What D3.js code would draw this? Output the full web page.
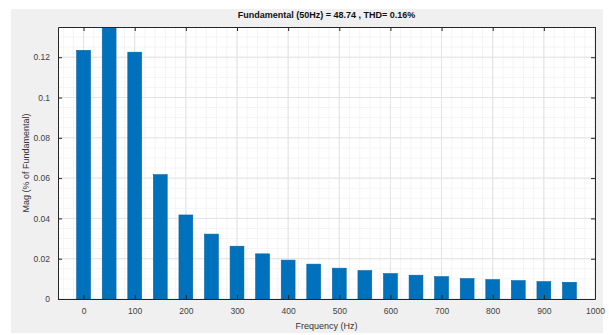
<!DOCTYPE html>
<html>
<head>
<meta charset="utf-8">
<script src="https://cdn.jsdelivr.net/npm/d3@7/dist/d3.min.js"></script>
<style>
  body { margin: 0; background: #fff; }
  text { font-family: "Liberation Sans", Arial, sans-serif; }
</style>
</head>
<body>
<div id="chart"></div>
<script>
// harmonic spectrum (fundamental at 50 Hz is clipped by the y limit)
var freqs = [0, 50, 100, 150, 200, 250, 300, 350, 400, 450, 500, 550, 600, 650, 700, 750, 800, 850, 900, 950];
var mags = [0.1234, 48.74, 0.1225, 0.0617, 0.0417, 0.0322, 0.0262, 0.0224, 0.0193, 0.0173,
            0.0153, 0.0141, 0.0126, 0.0118, 0.0111, 0.0101, 0.0096, 0.0091, 0.0086, 0.0083];
var xTicks = [0, 100, 200, 300, 400, 500, 600, 700, 800, 900, 1000];
var yTicks = [0, 0.02, 0.04, 0.06, 0.08, 0.1, 0.12];
var titleText = 'Fundamental (50Hz) = 48.74 , THD= 0.16%';

var width = 609, height = 335;
var pLeft = 58, pRight = 595, pTop = 27, pBottom = 299;

var svg = d3.select('#chart').append('svg')
    .attr('width', width)
    .attr('height', height);

// gray figure background
svg.append('rect')
    .attr('x', 11).attr('y', 9)
    .attr('width', 592).attr('height', 324)
    .style('fill', '#f0f0f0');

var x = d3.scaleLinear().domain([-50, 1000]).range([pLeft, pRight]);
var y = d3.scaleLinear().domain([0, 0.135]).range([pBottom, pTop]);

svg.append('rect')
    .attr('x', pLeft).attr('y', pTop)
    .attr('width', pRight - pLeft).attr('height', pBottom - pTop)
    .style('fill', '#fff');

// minor grid
var g = svg.append('g');
g.selectAll('.vmin').data(d3.range(-40, 1000, 20))
    .enter().append('line')
    .attr('x1', function(d) { return x(d); }).attr('x2', function(d) { return x(d); })
    .attr('y1', pTop).attr('y2', pBottom)
    .style('stroke', '#f4f4f4').style('stroke-width', 1);
g.selectAll('.hmin').data(d3.range(0.005, 0.135, 0.005))
    .enter().append('line')
    .attr('x1', pLeft).attr('x2', pRight)
    .attr('y1', function(d) { return y(d); }).attr('y2', function(d) { return y(d); })
    .style('stroke', '#f4f4f4').style('stroke-width', 1);

// major grid
g.selectAll('.vmaj').data(xTicks)
    .enter().append('line')
    .attr('x1', function(d) { return x(d); }).attr('x2', function(d) { return x(d); })
    .attr('y1', pTop).attr('y2', pBottom)
    .style('stroke', '#e3e3e3').style('stroke-width', 1);
g.selectAll('.hmaj').data(yTicks)
    .enter().append('line')
    .attr('x1', pLeft).attr('x2', pRight)
    .attr('y1', function(d) { return y(d); }).attr('y2', function(d) { return y(d); })
    .style('stroke', '#e3e3e3').style('stroke-width', 1);

// bars
var barW = x(27) - x(0);
svg.append('clipPath').attr('id', 'plotclip')
    .append('rect').attr('x', pLeft).attr('y', pTop)
    .attr('width', pRight - pLeft).attr('height', pBottom - pTop);

svg.append('g').attr('clip-path', 'url(#plotclip)')
    .selectAll('rect').data(freqs)
    .enter().append('rect')
    .attr('x', function(d) { return x(d) - barW / 2; })
    .attr('width', barW)
    .attr('y', function(d, i) { return y(Math.min(mags[i], 0.2)); })
    .attr('height', function(d, i) { return pBottom - y(Math.min(mags[i], 0.2)); })
    .style('fill', '#0072bd')
    .style('stroke', '#0061a0')
    .style('stroke-width', 0.6);

// axes (MATLAB style: ticks inside, box on)
var xAxis = d3.axisBottom(x).tickValues(xTicks).tickSizeInner(-4).tickSizeOuter(0).tickPadding(9)
    .tickFormat(d3.format('d'));
var yAxis = d3.axisLeft(y).tickValues(yTicks).tickSizeInner(-4).tickSizeOuter(0).tickPadding(8)
    .tickFormat(function(d) { return d === 0 ? '0' : String(+d.toFixed(2)); });

var gx = svg.append('g').attr('transform', 'translate(0,' + pBottom + ')').call(xAxis);
var gy = svg.append('g').attr('transform', 'translate(' + pLeft + ',0)').call(yAxis);
var gxt = svg.append('g').attr('transform', 'translate(0,' + pTop + ')')
    .call(d3.axisTop(x).tickValues(xTicks).tickSizeInner(-4).tickSizeOuter(0).tickFormat(''));
var gyr = svg.append('g').attr('transform', 'translate(' + pRight + ',0)')
    .call(d3.axisRight(y).tickValues(yTicks).tickSizeInner(-4).tickSizeOuter(0).tickFormat(''));

[gx, gy, gxt, gyr].forEach(function(a) {
    a.select('.domain').style('stroke', '#262626').style('stroke-width', 1);
    a.selectAll('.tick line').style('stroke', '#262626');
    a.selectAll('.tick text').style('fill', '#404040').style('font-size', '8.5px');
});

// title and labels
svg.append('text')
    .attr('x', (pLeft + pRight) / 2).attr('y', 18)
    .attr('text-anchor', 'middle')
    .style('font-size', '9px').style('font-weight', 'bold').style('fill', '#111')
    .text(titleText);

svg.append('text')
    .attr('x', (pLeft + pRight) / 2).attr('y', 329)
    .attr('text-anchor', 'middle')
    .style('font-size', '9px').style('fill', '#333')
    .text('Frequency (Hz)');

svg.append('text')
    .attr('transform', 'translate(29,' + ((pTop + pBottom) / 2) + ') rotate(-90)')
    .attr('text-anchor', 'middle')
    .style('font-size', '9px').style('fill', '#333')
    .text('Mag (% of Fundamental)');
</script>
</body>
</html>
